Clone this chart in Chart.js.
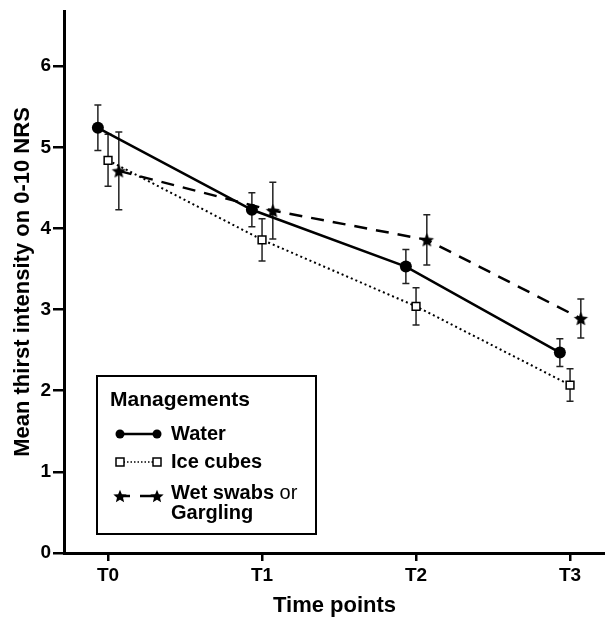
<!DOCTYPE html>
<html>
<head>
<meta charset="utf-8">
<script src="https://cdn.jsdelivr.net/npm/chart.js@4"></script>
<style>
  body { margin: 0; background: #fff; }
  #wrap { width: 605px; height: 620px; }
</style>
</head>
<body>
<div id="wrap"><canvas id="grafico" width="605" height="620"></canvas></div>
<script>
// ------------------ DADOS ------------------
const timeLabels = ["T0", "T1", "T2", "T3"];
const yTicks = [0, 1, 2, 3, 4, 5, 6];

const waterMean = [5.24, 4.23, 3.53, 2.47];
const waterErr  = [0.28, 0.21, 0.21, 0.17];

const iceMean = [4.84, 3.86, 3.04, 2.07];
const iceErr  = [0.32, 0.26, 0.23, 0.20];

const wetMean = [4.71, 4.22, 3.86, 2.89];
const wetErr  = [0.48, 0.35, 0.31, 0.24];

const FONT = "'Liberation Sans', Arial, sans-serif";

// estrela preenchida de 5 pontas como pointStyle
function makeStar(r) {
    const c = document.createElement("canvas");
    const s = Math.ceil(r * 2 + 2);
    c.width = s; c.height = s;
    const g = c.getContext("2d");
    g.translate(s / 2, s / 2 + r * 0.1);
    g.beginPath();
    for (let i = 0; i < 10; i++) {
        const rad = i % 2 === 0 ? r : r * 0.45;
        const a = -Math.PI / 2 + i * Math.PI / 5;
        g.lineTo(Math.cos(a) * rad, Math.sin(a) * rad);
    }
    g.closePath();
    g.fillStyle = "#000";
    g.fill();
    return c;
}
const star = makeStar(7.5);
const starSmall = makeStar(7);

function toPoints(means, shift) {
    return means.map((v, i) => ({ x: i + shift, y: v }));
}

const series = [
    { label: "Water", mean: waterMean, err: waterErr, shift: -0.066 },
    { label: "Ice cubes", mean: iceMean, err: iceErr, shift: 0 },
    { label: "Wet swabs or Gargling", mean: wetMean, err: wetErr, shift: 0.07 }
];

// ------------------ BARRAS DE ERRO ------------------
const errorBars = {
    id: "errorBars",
    beforeDatasetsDraw(chart) {
        const { ctx, scales: { x, y } } = chart;
        ctx.save();
        ctx.strokeStyle = "#222";
        ctx.lineWidth = 1.5;
        series.forEach(s => {
            s.mean.forEach((m, i) => {
                const px = x.getPixelForValue(i + s.shift);
                const top = y.getPixelForValue(m + s.err[i]);
                const bot = y.getPixelForValue(m - s.err[i]);
                ctx.beginPath();
                ctx.moveTo(px, top); ctx.lineTo(px, bot);
                ctx.moveTo(px - 3.5, top); ctx.lineTo(px + 3.5, top);
                ctx.moveTo(px - 3.5, bot); ctx.lineTo(px + 3.5, bot);
                ctx.stroke();
            });
        });
        ctx.restore();
    }
};

// ------------------ LEGENDA EM CAIXA ------------------
const boxLegend = {
    id: "boxLegend",
    afterDraw(chart) {
        const ctx = chart.ctx;
        ctx.save();
        ctx.strokeStyle = "#000";
        ctx.lineWidth = 2;
        ctx.strokeRect(97, 376, 219, 158);

        ctx.fillStyle = "#000";
        ctx.textBaseline = "middle";
        ctx.textAlign = "left";
        ctx.font = "bold 21px " + FONT;
        ctx.fillText("Managements", 110, 400);

        const x1 = 120, x2 = 157;
        // Water
        ctx.lineWidth = 2.5;
        ctx.setLineDash([]);
        ctx.beginPath(); ctx.moveTo(x1, 434); ctx.lineTo(x2, 434); ctx.stroke();
        ctx.beginPath(); ctx.arc(x1, 434, 4.5, 0, Math.PI * 2); ctx.fill();
        ctx.beginPath(); ctx.arc(x2, 434, 4.5, 0, Math.PI * 2); ctx.fill();

        // Ice cubes
        ctx.lineWidth = 1.5;
        ctx.setLineDash([1.5, 2]);
        ctx.beginPath(); ctx.moveTo(x1, 462); ctx.lineTo(x2, 462); ctx.stroke();
        ctx.setLineDash([]);
        [x1, x2].forEach(px => {
            ctx.fillStyle = "#fff";
            ctx.fillRect(px - 4, 458, 8, 8);
            ctx.strokeRect(px - 4, 458, 8, 8);
        });
        ctx.fillStyle = "#000";

        // Wet swabs
        ctx.lineWidth = 2.5;
        ctx.beginPath(); ctx.moveTo(x1, 496); ctx.lineTo(x1 + 10, 496);
        ctx.moveTo(x1 + 20, 496); ctx.lineTo(x2, 496); ctx.stroke();
        ctx.drawImage(starSmall, x1 - starSmall.width / 2, 496 - starSmall.height / 2);
        ctx.drawImage(starSmall, x2 - starSmall.width / 2, 496 - starSmall.height / 2);

        ctx.font = "bold 20px " + FONT;
        ctx.fillText("Water", 171, 434);
        ctx.fillText("Ice cubes", 171, 462);
        ctx.fillText("Wet swabs", 171, 493);
        const w = ctx.measureText("Wet swabs ").width;
        ctx.font = "20px " + FONT;
        ctx.fillText("or", 171 + w, 493);
        ctx.font = "bold 20px " + FONT;
        ctx.fillText("Gargling", 171, 513);
        ctx.restore();
    }
};

// ------------------ GRÁFICO ------------------
const ctx = document.getElementById("grafico").getContext("2d");

new Chart(ctx, {
    type: "line",
    data: {
        datasets: [
            {
                label: series[0].label,
                data: toPoints(waterMean, series[0].shift),
                borderColor: "#000",
                backgroundColor: "#000",
                borderWidth: 2.5,
                pointStyle: "circle",
                pointRadius: 6,
                pointBorderWidth: 0,
                tension: 0
            },
            {
                label: series[1].label,
                data: toPoints(iceMean, series[1].shift),
                borderColor: "#000",
                backgroundColor: "#fff",
                borderWidth: 2,
                borderDash: [2, 3],
                pointStyle: "rect",
                pointRadius: 5.5,
                pointBorderWidth: 1.5,
                pointBorderColor: "#000",
                pointBackgroundColor: "#fff",
                tension: 0
            },
            {
                label: series[2].label,
                data: toPoints(wetMean, series[2].shift),
                borderColor: "#000",
                backgroundColor: "#000",
                borderWidth: 2.5,
                borderDash: [13, 9],
                pointStyle: star,
                pointRadius: 8,
                tension: 0
            }
        ]
    },
    options: {
        responsive: false,
        animation: false,
        layout: { autoPadding: false, padding: { top: 11, right: 0, left: 0, bottom: 0 } },
        plugins: {
            legend: { display: false },
            tooltip: { enabled: false }
        },
        scales: {
            x: {
                type: "linear",
                min: -0.286,
                max: 3.227,
                afterBuildTicks: s => { s.ticks = timeLabels.map((t, i) => ({ value: i })); },
                afterFit: s => { s.height = 67; s.paddingLeft = 0; s.paddingRight = 0; },
                ticks: {
                    callback: v => timeLabels[v],
                    color: "#000",
                    font: { family: FONT, size: 19, weight: "bold" },
                    padding: 3,
                    maxRotation: 0
                },
                grid: { drawOnChartArea: false, drawTicks: true, tickLength: 8, lineWidth: 2.5, color: "#000" },
                border: { display: true, width: 3, color: "#000" },
                title: {
                    display: true,
                    text: "Time points",
                    color: "#000",
                    font: { family: FONT, size: 22, weight: "bold" },
                    padding: { top: 0, bottom: 1 }
                }
            },
            y: {
                min: 0,
                max: 6.68,
                afterBuildTicks: s => { s.ticks = yTicks.map(v => ({ value: v })); },
                afterFit: s => { s.width = 64; s.paddingTop = 0; s.paddingBottom = 0; },
                ticks: {
                    color: "#000",
                    font: { family: FONT, size: 19, weight: "bold" },
                    padding: 2
                },
                grid: { drawOnChartArea: false, drawTicks: true, tickLength: 11, lineWidth: 2.5, color: "#000" },
                border: { display: true, width: 3, color: "#000" },
                title: {
                    display: true,
                    text: "Mean thirst intensity on 0-10 NRS",
                    color: "#000",
                    font: { family: FONT, size: 22, weight: "bold" },
                    padding: { top: 10, bottom: 0 }
                }
            }
        }
    },
    plugins: [errorBars, boxLegend]
});
</script>
</body>
</html>
